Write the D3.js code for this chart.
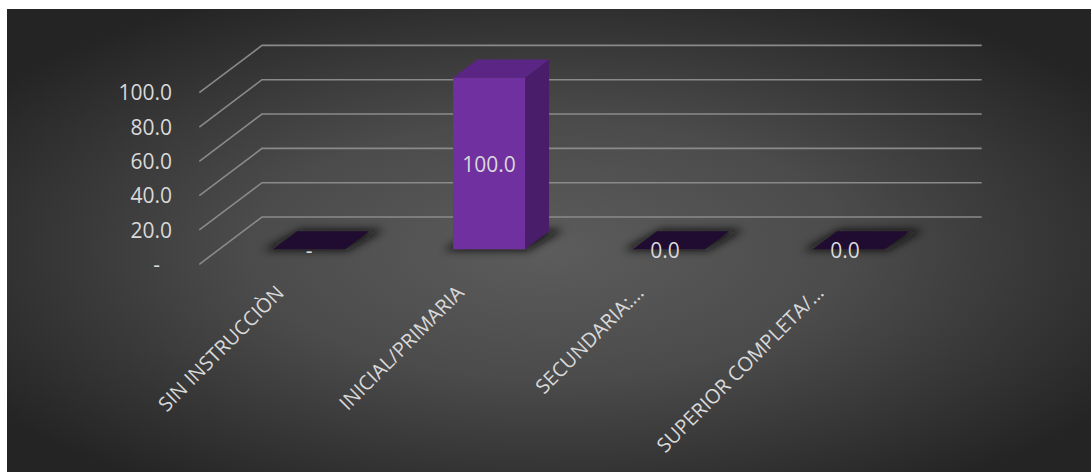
<!DOCTYPE html>
<html>
<head>
<meta charset="utf-8">
<script src="https://cdn.jsdelivr.net/npm/d3@7"></script>
<style>
  html, body { margin: 0; padding: 0; background: #ffffff; }
  svg { display: block; }
  text { font-family: "Open Sans", "Noto Sans", sans-serif; }
</style>
</head>
<body>
<svg id="chart" width="1091" height="472"></svg>
<script>
// Nivel educativo: share of respondents per category (%)
const categories = ["SIN INSTRUCCIÒN", "INICIAL/PRIMARIA", "SECUNDARIA:…", "SUPERIOR COMPLETA/…"];
const values = [0, 100.0, 0.0, 0.0];
const valueLabels = ["-", "100.0", "0.0", "0.0"];
const yTicks = [0, 20, 40, 60, 80, 100];
const yTickLabels = ["-", "20.0", "40.0", "60.0", "80.0", "100.0"];

const svg = d3.select("#chart");
const W = 1091, H = 472;

// ---- background panel with radial shading
const defs = svg.append("defs");
const grad = defs.append("radialGradient").attr("id", "bg")
  .attr("cx", "50%").attr("cy", "52%").attr("r", "62%");
grad.append("stop").attr("offset", "0%").attr("stop-color", "#5c5c5c");
grad.append("stop").attr("offset", "45%").attr("stop-color", "#4b4b4b");
grad.append("stop").attr("offset", "100%").attr("stop-color", "#242424");

const blur = defs.append("filter").attr("id", "soft")
  .attr("x", "-50%").attr("y", "-50%").attr("width", "200%").attr("height", "200%");
blur.append("feGaussianBlur").attr("stdDeviation", 4.5);

svg.append("rect").attr("x", 7).attr("y", 9)
  .attr("width", W - 7).attr("height", H - 9).attr("fill", "url(#bg)");

// ---- oblique 3D projection: front plane + depth offset
const DX = 62.7, DY = -47.3;
const x = d3.scaleBand().domain(categories).range([199.3, 919])
  .paddingInner(0.6).paddingOuter(0.3);
const y = d3.scaleLinear().domain([0, 100]).range([264.3, 92.7]);
const xLeft = 199.3, xRight = 919;
const proj = (px, v, z) => [px + z * DX, y(v) + z * DY];

// gridlines: side wall diagonal + back wall horizontal
const grid = svg.append("g");
yTicks.forEach(t => {
  const a = proj(xLeft, t, 0), b = proj(xLeft, t, 1), c = proj(xRight, t, 1);
  grid.append("path")
    .attr("d", d3.line()([a, b, c]))
    .attr("fill", "none").attr("stroke", "#8a8a8a").attr("stroke-width", 1.6);
});

// value axis labels
svg.append("g").selectAll("text").data(yTicks).join("text")
  .attr("x", d => 172 - (d === 0 ? 12 : 0))
  .attr("y", d => y(d))
  .attr("dy", "0.36em")
  .attr("text-anchor", "end")
  .attr("font-size", 21)
  .attr("fill", "#d9d9d9")
  .text((d, i) => yTickLabels[i]);

// ---- bars
const Z0 = 0.317, Z1 = 0.70;
const bars = svg.append("g");
categories.forEach((cat, i) => {
  const v = values[i];
  const x0 = x(cat), x1 = x(cat) + x.bandwidth();
  const poly = pts => "M" + pts.map(p => p.join(",")).join("L") + "Z";

  // floor shadow (blurred footprint)
  const s0 = proj(x0 - 9, 0, Z0 - 0.02), s1 = proj(x1 + 4, 0, Z0 - 0.02),
        s2 = proj(x1 + 13, 0, Z1 + 0.03), s3 = proj(x0 + 2, 0, Z1 + 0.03);
  bars.append("path").attr("d", poly([s0, s1, s2, s3]))
    .attr("fill", "#0d0d0d").attr("opacity", 0.85).attr("filter", "url(#soft)");

  const fBL = proj(x0, 0, Z0), fBR = proj(x1, 0, Z0),
        fTL = proj(x0, v, Z0), fTR = proj(x1, v, Z0),
        bTL = proj(x0, v, Z1), bTR = proj(x1, v, Z1), bBR = proj(x1, 0, Z1);

  if (v > 0) {
    bars.append("path").attr("d", poly([fBR, fTR, bTR, bBR])).attr("fill", "#4a1d6b");
    bars.append("path").attr("d", poly([fTL, fTR, bTR, bTL])).attr("fill", "#5b2585");
    bars.append("path").attr("d", poly([fBL, fBR, fTR, fTL])).attr("fill", "#7030a0");
  } else {
    bars.append("path").attr("d", poly([fTL, fTR, bTR, bTL])).attr("fill", "#200b31");
  }

  // data label at the middle of the front face
  const cx = (x0 + x1) / 2;
  const cy = (fBL[1] + fTL[1]) / 2;
  bars.append("text")
    .attr("x", cx + Z0 * DX - (valueLabels[i] === "0.0" ? 4 : 0))
    .attr("y", cy + 1)
    .attr("dy", "0.36em")
    .attr("text-anchor", "middle")
    .attr("font-size", 21)
    .attr("fill", "#d9d9d9")
    .text(valueLabels[i]);
});

// ---- category labels, rotated
svg.append("g").selectAll("text").data(categories).join("text")
  .attr("transform", d => `translate(${x(d) + x.bandwidth() / 2 - 4},${294}) rotate(-45)`)
  .attr("text-anchor", "end")
  .attr("font-size", 20)
  .attr("fill", "#d9d9d9")
  .text(d => d);
</script>
</body>
</html>
